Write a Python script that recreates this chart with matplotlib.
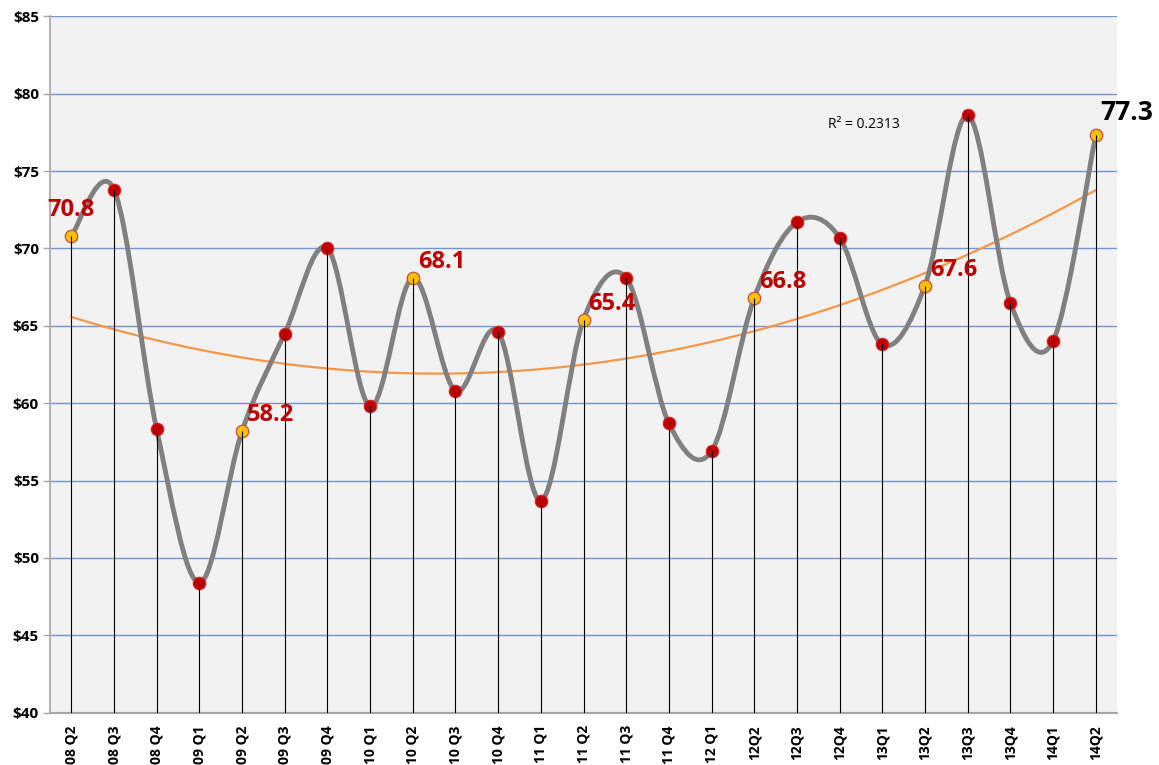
import numpy as np
import matplotlib
matplotlib.use('Agg')
import matplotlib.pyplot as plt
from matplotlib.path import Path
from matplotlib.patches import PathPatch

# ---------------- data ----------------
categories = ["08 Q2", "08 Q3", "08 Q4", "09 Q1", "09 Q2", "09 Q3", "09 Q4",
              "10 Q1", "10 Q2", "10 Q3", "10 Q4", "11 Q1", "11 Q2", "11 Q3",
              "11 Q4", "12 Q1", "12Q2", "12Q3", "12Q4", "13Q1", "13Q2", "13Q3",
              "13Q4", "14Q1", "14Q2"]
values = [70.8, 73.8, 58.3, 48.4, 58.2, 64.5, 70.0, 59.8, 68.1, 60.8, 64.6,
          53.7, 65.4, 68.1, 58.7, 56.9, 66.8, 71.7, 70.7, 63.8, 67.6, 78.6,
          66.5, 64.0, 77.3]
labelled = [0, 4, 8, 12, 16, 20, 24]          # Q2 points with value labels
y_ticks = [40, 45, 50, 55, 60, 65, 70, 75, 80, 85]
r2_text = "R\u00b2 = 0.2313"

# label offsets in pixels (dx, dy, ha) - styling only
label_style = {0: (0, 20, 'center'), 24: (5, 15, 'left')}
default_style = (5, 10, 'left')

plt.rcParams['font.family'] = ['Open Sans', 'DejaVu Sans']

W, H = 1159, 765
fig = plt.figure(figsize=(W / 100, H / 100), dpi=100)
ax = fig.add_axes([50 / W, 52.3 / H, 1067 / W, 696.4 / H])
ax.set_facecolor('#F2F2F2')

n = len(values)
x = np.arange(n, dtype=float)
y = np.array(values, dtype=float)

ax.set_xlim(-0.5, n - 0.5)
ax.set_ylim(40, 85)

# gridlines
ax.set_yticks(y_ticks)
ax.set_yticklabels([f"${t}" for t in y_ticks], fontweight='bold', fontsize=11)
ax.yaxis.grid(True, color='#7396CB', linewidth=1.0)
ax.set_axisbelow(True)
ax.tick_params(axis='y', length=5, width=1, color='#A6A6A6', pad=3)

ax.set_xticks(x)
ax.set_xticklabels(categories, rotation=90, fontweight='bold', fontsize=10)
ax.tick_params(axis='x', length=0, pad=9)

for s in ['top', 'right']:
    ax.spines[s].set_visible(False)
ax.spines['left'].set_color('#A6A6A6')
ax.spines['left'].set_linewidth(1.2)
ax.spines['bottom'].set_color('#A6A6A6')
ax.spines['bottom'].set_linewidth(1.5)

# quadratic trendline (fit on 1..n like Excel)
xt = x + 1
coef = np.polyfit(xt, y, 2)
xf = np.linspace(xt[0], xt[-1], 300)
ax.plot(xf - 1, np.polyval(coef, xf), color='#F79646', linewidth=1.6, zorder=3)

# smoothed line (Catmull-Rom -> cubic Bezier)
pts = np.column_stack([x, y])
verts = [tuple(pts[0])]
codes = [Path.MOVETO]
for i in range(n - 1):
    p0 = pts[i - 1] if i > 0 else pts[i]
    p1 = pts[i]
    p2 = pts[i + 1]
    p3 = pts[i + 2] if i + 2 < n else pts[i + 1]
    c1 = p1 + (p2 - p0) / 6.0
    c2 = p2 - (p3 - p1) / 6.0
    verts += [tuple(c1), tuple(c2), tuple(p2)]
    codes += [Path.CURVE4, Path.CURVE4, Path.CURVE4]
patch = PathPatch(Path(verts, codes), facecolor='none', edgecolor='#808080',
                  linewidth=3.5, capstyle='round', joinstyle='round', zorder=4)
ax.add_patch(patch)

# markers
red_idx = [i for i in range(n) if i not in labelled]
ax.plot(x[red_idx], y[red_idx], 'o', ms=9, mfc='#C00000', mec='#D02A2A',
        mew=0.8, linestyle='none', zorder=5)
ax.plot(x[labelled], y[labelled], 'o', ms=9, mfc='#FFC000', mec='#C0504D',
        mew=0.9, linestyle='none', zorder=5)

# drop lines
ax.vlines(x, 40, y, color='black', linewidth=0.8, zorder=6)

# data labels
for i in labelled:
    dx, dy, ha = label_style.get(i, default_style)
    last = (i == n - 1)
    ax.annotate(f"{values[i]:.1f}", (x[i], y[i]),
                xytext=(dx * 0.72, dy * 0.72), textcoords='offset points',
                ha=ha, va='baseline', fontweight='bold',
                fontsize=19 if last else 17,
                color='black' if last else '#C00000', zorder=7,
                annotation_clip=False)

# R squared text
ax.text(17.73, 78.0, r2_text, fontsize=10, ha='left', va='center',
        color='black', zorder=7)

fig.savefig('out.png', dpi=100)
